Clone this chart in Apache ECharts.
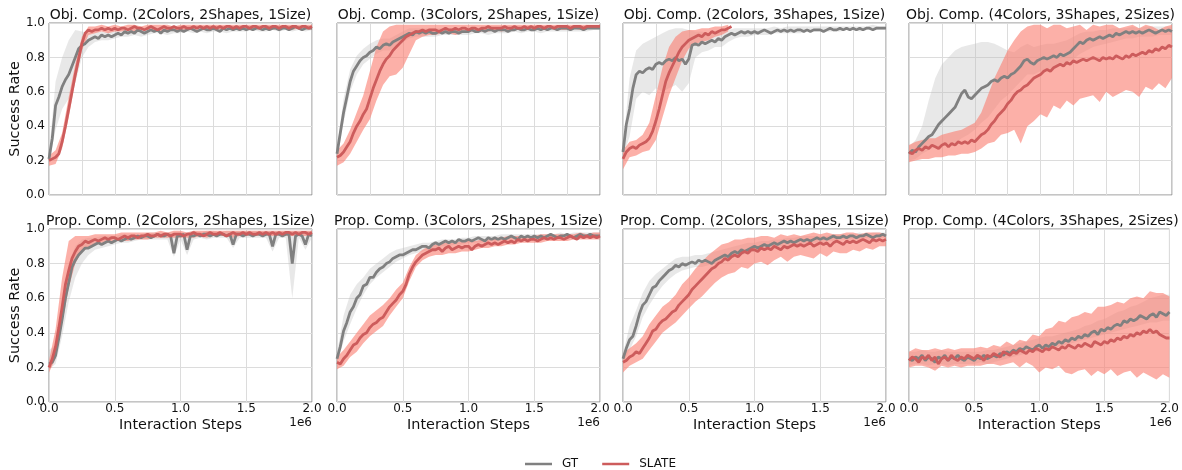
<!DOCTYPE html>
<html><head><meta charset="utf-8">
<script src="https://cdn.jsdelivr.net/npm/echarts@6/dist/echarts.min.js"></script>
<style>html,body{margin:0;padding:0;background:#fff}#c{width:1182px;height:470px}</style>
</head><body><div id="c"></div><script>
// ---------- x grids (in units of 1e6 interaction steps) ----------
const STEPS = [0,0.025,0.05,0.075,0.1,0.125,0.15,0.175,0.2,0.225,
0.25,0.275,0.3,0.325,0.35,0.375,0.4,0.425,0.45,0.475,
0.5,0.525,0.55,0.575,0.6,0.625,0.65,0.675,0.7,0.725,
0.75,0.775,0.8,0.825,0.85,0.875,0.9,0.925,0.95,0.975,
1.0,1.025,1.05,1.075,1.1,1.125,1.15,1.175,1.2,1.225,
1.25,1.275,1.3,1.325,1.35,1.375,1.4,1.425,1.45,1.475,
1.5,1.525,1.55,1.575,1.6,1.625,1.65,1.675,1.7,1.725,
1.75,1.775,1.8,1.825,1.85,1.875,1.9,1.925,1.95,1.975,
2.0];
const BAND_STEPS = [0,0.05,0.1,0.15,0.2,0.25,0.3,0.35,0.4,0.45,
0.5,0.55,0.6,0.65,0.7,0.75,0.8,0.85,0.9,0.95,
1.0,1.05,1.1,1.15,1.2,1.25,1.3,1.35,1.4,1.45,
1.5,1.55,1.6,1.65,1.7,1.75,1.8,1.85,1.9,1.95,
2.0];
const TITLES = ["Obj. Comp. (2Colors, 2Shapes, 1Size)","Obj. Comp. (3Colors, 2Shapes, 1Size)","Obj. Comp. (2Colors, 3Shapes, 1Size)","Obj. Comp. (4Colors, 3Shapes, 2Sizes)",
"Prop. Comp. (2Colors, 2Shapes, 1Size)","Prop. Comp. (3Colors, 2Shapes, 1Size)","Prop. Comp. (2Colors, 3Shapes, 1Size)","Prop. Comp. (4Colors, 3Shapes, 2Sizes)"];

// ---------- Obj. Comp. (2Colors, 2Shapes, 1Size) ----------
const obj1_gt = [0.21,0.33,0.52,0.57,0.63,0.67,0.70,0.75,0.80,0.85,
0.87,0.88,0.90,0.91,0.92,0.91,0.93,0.92,0.93,0.92,
0.93,0.94,0.93,0.95,0.94,0.95,0.94,0.96,0.95,0.94,
0.95,0.96,0.95,0.96,0.94,0.96,0.95,0.96,0.96,0.95,
0.96,0.95,0.96,0.97,0.96,0.95,0.96,0.97,0.96,0.96,
0.97,0.96,0.95,0.97,0.96,0.97,0.96,0.97,0.96,0.97,
0.96,0.97,0.96,0.97,0.97,0.96,0.97,0.96,0.97,0.97,
0.96,0.97,0.97,0.96,0.97,0.98,0.97,0.96,0.97,0.97,
0.97];
const obj1_slate = [0.20,0.21,0.22,0.24,0.31,0.40,0.50,0.60,0.70,0.79,
0.88,0.94,0.96,0.95,0.96,0.96,0.97,0.96,0.97,0.96,
0.97,0.96,0.97,0.97,0.96,0.97,0.98,0.97,0.97,0.96,
0.97,0.98,0.97,0.96,0.97,0.98,0.97,0.97,0.98,0.97,
0.97,0.98,0.97,0.97,0.98,0.97,0.98,0.97,0.98,0.97,
0.98,0.97,0.98,0.97,0.98,0.98,0.97,0.98,0.97,0.98,
0.98,0.97,0.98,0.98,0.97,0.98,0.98,0.97,0.98,0.98,
0.97,0.98,0.98,0.97,0.98,0.98,0.97,0.98,0.98,0.97,
0.98];
const obj1_gt_lo = [0.19,0.38,0.50,0.56,0.65,0.80,0.86,0.89,0.90,0.90,
0.91,0.92,0.92,0.93,0.92,0.93,0.94,0.94,0.93,0.94,
0.94,0.95,0.94,0.95,0.94,0.95,0.95,0.94,0.95,0.95,
0.95,0.96,0.95,0.95,0.96,0.95,0.96,0.95,0.96,0.95,
0.96];
const obj1_gt_hi = [0.24,0.66,0.80,0.90,0.96,0.95,0.94,0.95,0.95,0.95,
0.96,0.96,0.96,0.97,0.97,0.97,0.97,0.97,0.98,0.97,
0.98,0.97,0.98,0.98,0.98,0.98,0.98,0.98,0.98,0.98,
0.98,0.98,0.98,0.99,0.98,0.98,0.99,0.98,0.98,0.99,
0.98];
const obj1_slate_lo = [0.17,0.18,0.27,0.45,0.66,0.84,0.93,0.94,0.95,0.94,
0.95,0.95,0.96,0.95,0.96,0.96,0.96,0.95,0.96,0.96,
0.96,0.96,0.96,0.97,0.96,0.97,0.96,0.97,0.97,0.96,
0.97,0.96,0.97,0.97,0.96,0.97,0.97,0.96,0.97,0.97,
0.96];
const obj1_slate_hi = [0.23,0.26,0.36,0.57,0.76,0.92,0.98,0.98,0.99,0.98,
0.99,0.98,0.99,0.99,0.98,0.99,0.99,0.99,0.99,0.98,
0.99,0.99,0.99,0.99,0.99,0.99,0.99,0.99,0.99,0.99,
0.99,0.99,0.99,0.99,0.99,0.99,0.99,0.99,0.99,0.99,
0.99];

// ---------- Obj. Comp. (3Colors, 2Shapes, 1Size) ----------
const obj2_gt = [0.24,0.36,0.48,0.57,0.66,0.72,0.75,0.78,0.80,0.81,
0.83,0.84,0.86,0.85,0.87,0.88,0.87,0.89,0.90,0.91,
0.92,0.93,0.94,0.93,0.95,0.94,0.95,0.94,0.95,0.94,
0.94,0.95,0.94,0.95,0.94,0.95,0.95,0.94,0.95,0.95,
0.95,0.96,0.95,0.95,0.96,0.95,0.96,0.96,0.95,0.96,
0.96,0.96,0.95,0.96,0.96,0.97,0.96,0.96,0.97,0.96,
0.96,0.97,0.96,0.97,0.96,0.97,0.97,0.96,0.97,0.97,
0.97,0.96,0.97,0.97,0.97,0.96,0.97,0.97,0.97,0.97,
0.97];
const obj2_slate = [0.22,0.23,0.25,0.28,0.31,0.36,0.40,0.43,0.47,0.50,
0.56,0.62,0.67,0.72,0.76,0.79,0.81,0.84,0.86,0.88,
0.90,0.92,0.93,0.94,0.95,0.95,0.96,0.95,0.96,0.96,
0.96,0.95,0.96,0.97,0.96,0.96,0.97,0.96,0.97,0.97,
0.96,0.97,0.97,0.96,0.97,0.97,0.98,0.97,0.97,0.97,
0.97,0.98,0.97,0.97,0.98,0.97,0.97,0.98,0.97,0.98,
0.97,0.98,0.98,0.97,0.98,0.98,0.97,0.98,0.98,0.98,
0.98,0.97,0.98,0.98,0.98,0.97,0.98,0.98,0.98,0.98,
0.98];
const obj2_gt_lo = [0.22,0.42,0.60,0.70,0.76,0.79,0.82,0.84,0.84,0.87,
0.89,0.91,0.92,0.92,0.92,0.92,0.93,0.93,0.93,0.93,
0.93,0.94,0.94,0.93,0.94,0.94,0.94,0.95,0.94,0.95,
0.95,0.94,0.95,0.95,0.95,0.95,0.95,0.95,0.95,0.96,
0.96];
const obj2_gt_hi = [0.27,0.56,0.73,0.81,0.85,0.88,0.90,0.91,0.91,0.93,
0.95,0.97,0.97,0.97,0.97,0.97,0.97,0.97,0.97,0.97,
0.97,0.97,0.97,0.98,0.97,0.98,0.98,0.98,0.98,0.98,
0.98,0.98,0.98,0.98,0.98,0.98,0.98,0.98,0.99,0.98,
0.98];
const obj2_slate_lo = [0.17,0.19,0.24,0.31,0.38,0.44,0.55,0.64,0.69,0.70,
0.74,0.82,0.90,0.92,0.93,0.93,0.94,0.94,0.93,0.94,
0.95,0.95,0.95,0.95,0.96,0.95,0.96,0.96,0.96,0.96,
0.96,0.96,0.96,0.97,0.96,0.96,0.97,0.96,0.97,0.97,
0.97];
const obj2_slate_hi = [0.26,0.30,0.38,0.48,0.58,0.72,0.86,0.95,0.98,0.99,
0.99,0.99,0.99,0.99,0.99,0.99,0.99,0.99,0.99,0.99,
0.99,0.99,0.99,0.99,0.99,0.99,0.99,0.99,0.99,0.99,
0.99,0.99,0.99,0.99,0.99,0.99,0.99,0.99,0.99,0.99,
0.99];

// ---------- Obj. Comp. (2Colors, 3Shapes, 1Size) ----------
const obj3_gt = [0.25,0.41,0.50,0.62,0.70,0.72,0.71,0.73,0.74,0.73,
0.76,0.77,0.76,0.78,0.79,0.78,0.80,0.78,0.79,0.76,
0.79,0.87,0.88,0.87,0.89,0.88,0.89,0.90,0.89,0.91,
0.90,0.92,0.93,0.94,0.93,0.94,0.95,0.94,0.95,0.94,
0.95,0.94,0.95,0.96,0.95,0.94,0.95,0.96,0.95,0.96,
0.95,0.96,0.95,0.96,0.96,0.95,0.96,0.95,0.96,0.96,
0.96,0.95,0.96,0.97,0.96,0.96,0.97,0.96,0.97,0.96,
0.97,0.96,0.97,0.96,0.97,0.97,0.96,0.97,0.97,0.97,
0.97];
const obj3_slate = [0.21,0.25,0.27,0.28,0.27,0.29,0.30,0.31,0.33,0.37,
0.43,0.50,0.58,0.66,0.71,0.75,0.79,0.83,0.86,0.88,
0.90,0.91,0.92,0.93,0.92,0.94,0.93,0.95,0.94,0.95,
0.96,0.96,0.97,0.98];
const obj3_gt_lo = [0.22,0.34,0.56,0.60,0.58,0.62,0.60,0.62,0.64,0.60,
0.65,0.80,0.83,0.84,0.86,0.86,0.89,0.91,0.92,0.92,
0.93,0.93,0.93,0.94,0.94,0.94,0.94,0.94,0.95,0.95,
0.95,0.95,0.95,0.95,0.96,0.96,0.95,0.96,0.96,0.96,
0.96];
const obj3_gt_hi = [0.28,0.68,0.84,0.88,0.90,0.92,0.94,0.96,0.97,0.97,
0.96,0.95,0.95,0.94,0.94,0.95,0.96,0.97,0.97,0.97,
0.97,0.97,0.97,0.98,0.97,0.98,0.98,0.98,0.98,0.98,
0.98,0.98,0.98,0.98,0.98,0.98,0.98,0.98,0.99,0.98,
0.98];
const obj3_slate_lo = [0.15,0.22,0.23,0.25,0.26,0.32,0.45,0.58,0.68,0.78,
0.85,0.88,0.89,0.90,0.92,0.93,0.95];
const obj3_slate_hi = [0.26,0.31,0.32,0.35,0.42,0.58,0.74,0.86,0.92,0.95,
0.96,0.96,0.97,0.97,0.98,0.98,0.99];

// ---------- Obj. Comp. (4Colors, 3Shapes, 2Sizes) ----------
const obj4_gt = [0.24,0.26,0.25,0.28,0.30,0.32,0.34,0.35,0.38,0.41,
0.43,0.45,0.47,0.49,0.51,0.55,0.59,0.61,0.57,0.56,
0.58,0.60,0.62,0.63,0.64,0.66,0.67,0.66,0.68,0.69,
0.68,0.70,0.71,0.73,0.75,0.78,0.79,0.77,0.76,0.78,
0.79,0.80,0.79,0.80,0.81,0.80,0.82,0.81,0.82,0.83,
0.85,0.87,0.89,0.88,0.90,0.91,0.90,0.91,0.92,0.91,
0.92,0.93,0.92,0.94,0.93,0.94,0.95,0.94,0.95,0.94,
0.95,0.94,0.95,0.96,0.95,0.94,0.95,0.96,0.95,0.96,
0.95];
const obj4_slate = [0.25,0.24,0.26,0.27,0.26,0.28,0.27,0.29,0.28,0.27,
0.29,0.30,0.28,0.30,0.29,0.31,0.30,0.31,0.30,0.32,
0.31,0.33,0.35,0.36,0.38,0.41,0.43,0.46,0.48,0.50,
0.53,0.55,0.58,0.60,0.61,0.63,0.64,0.66,0.68,0.69,
0.70,0.72,0.73,0.72,0.74,0.75,0.76,0.75,0.77,0.76,
0.78,0.77,0.78,0.79,0.78,0.79,0.80,0.79,0.78,0.80,
0.79,0.80,0.79,0.81,0.80,0.79,0.81,0.80,0.82,0.81,
0.82,0.83,0.82,0.84,0.83,0.85,0.84,0.86,0.85,0.87,
0.86];
const obj4_gt_lo = [0.20,0.21,0.24,0.26,0.28,0.28,0.30,0.30,0.33,0.35,
0.38,0.42,0.45,0.50,0.55,0.58,0.62,0.66,0.70,0.70,
0.72,0.73,0.74,0.76,0.77,0.79,0.82,0.84,0.86,0.87,
0.88,0.89,0.90,0.91,0.91,0.92,0.92,0.92,0.93,0.93,
0.93];
const obj4_gt_hi = [0.28,0.32,0.40,0.55,0.68,0.76,0.80,0.84,0.86,0.87,
0.88,0.89,0.89,0.88,0.86,0.84,0.83,0.86,0.88,0.86,
0.87,0.88,0.88,0.89,0.90,0.92,0.94,0.95,0.95,0.96,
0.96,0.97,0.97,0.97,0.98,0.97,0.98,0.98,0.98,0.98,
0.98];
const obj4_slate_lo = [0.19,0.20,0.21,0.21,0.22,0.22,0.23,0.23,0.24,0.24,
0.25,0.27,0.30,0.31,0.35,0.36,0.38,0.30,0.40,0.43,
0.47,0.45,0.52,0.50,0.55,0.52,0.56,0.57,0.58,0.54,
0.60,0.57,0.59,0.61,0.60,0.57,0.63,0.61,0.65,0.62,
0.68];
const obj4_slate_hi = [0.29,0.31,0.32,0.33,0.33,0.35,0.36,0.37,0.38,0.40,
0.42,0.48,0.58,0.68,0.76,0.84,0.90,0.95,0.98,0.99,
0.99,0.97,0.99,0.99,0.97,0.98,0.99,0.96,0.99,0.98,
0.99,0.99,0.97,0.98,0.99,0.97,0.99,0.98,0.96,0.98,
0.99];

// ---------- Prop. Comp. (2Colors, 2Shapes, 1Size) ----------
const prop1_gt = [0.22,0.23,0.27,0.37,0.48,0.60,0.69,0.78,0.82,0.85,
0.87,0.89,0.89,0.90,0.91,0.92,0.91,0.92,0.93,0.92,
0.93,0.94,0.93,0.94,0.95,0.94,0.95,0.96,0.95,0.96,
0.96,0.95,0.96,0.97,0.96,0.96,0.97,0.96,0.86,0.96,
0.96,0.97,0.88,0.96,0.96,0.97,0.96,0.97,0.97,0.96,
0.97,0.96,0.97,0.97,0.96,0.97,0.91,0.97,0.97,0.96,
0.97,0.97,0.96,0.97,0.97,0.96,0.97,0.97,0.90,0.97,
0.97,0.96,0.97,0.97,0.80,0.96,0.97,0.96,0.91,0.97,
0.96];
const prop1_slate = [0.20,0.25,0.32,0.43,0.55,0.68,0.76,0.83,0.87,0.90,
0.91,0.93,0.92,0.93,0.94,0.93,0.94,0.95,0.94,0.95,
0.95,0.94,0.95,0.96,0.95,0.96,0.96,0.95,0.96,0.96,
0.97,0.96,0.96,0.97,0.96,0.97,0.97,0.96,0.97,0.97,
0.97,0.96,0.97,0.97,0.98,0.97,0.97,0.96,0.97,0.98,
0.97,0.97,0.98,0.97,0.96,0.97,0.98,0.97,0.97,0.98,
0.97,0.98,0.97,0.97,0.98,0.97,0.98,0.97,0.98,0.97,
0.98,0.97,0.98,0.98,0.97,0.98,0.97,0.98,0.98,0.97,
0.98];
const prop1_gt_lo = [0.19,0.22,0.38,0.58,0.72,0.80,0.85,0.88,0.89,0.90,
0.91,0.92,0.92,0.93,0.94,0.94,0.94,0.94,0.94,0.84,
0.94,0.85,0.94,0.95,0.94,0.95,0.95,0.95,0.89,0.95,
0.95,0.95,0.95,0.95,0.87,0.95,0.95,0.60,0.95,0.88,
0.95];
const prop1_gt_hi = [0.30,0.33,0.58,0.80,0.90,0.94,0.95,0.95,0.96,0.96,
0.96,0.97,0.97,0.97,0.97,0.98,0.98,0.98,0.98,0.98,
0.98,0.98,0.99,0.98,0.99,0.99,0.98,0.99,0.99,0.99,
0.99,0.99,0.99,0.99,0.99,0.99,0.99,0.99,0.99,0.99,
0.99];
const prop1_slate_lo = [0.17,0.25,0.45,0.66,0.80,0.87,0.89,0.91,0.92,0.92,
0.93,0.93,0.93,0.94,0.94,0.94,0.95,0.95,0.95,0.95,
0.95,0.95,0.95,0.96,0.95,0.96,0.96,0.96,0.95,0.96,
0.96,0.96,0.96,0.96,0.96,0.96,0.96,0.96,0.96,0.96,
0.96];
const prop1_slate_hi = [0.24,0.42,0.72,0.93,0.96,0.96,0.96,0.97,0.97,0.97,
0.97,0.98,0.98,0.98,0.98,0.98,0.98,0.99,0.98,0.99,
0.99,0.98,0.99,0.99,0.99,0.99,0.99,0.99,0.99,0.99,
0.99,0.99,0.99,0.99,0.99,0.99,0.99,0.99,0.99,0.99,
0.99];

// ---------- Prop. Comp. (3Colors, 2Shapes, 1Size) ----------
const prop2_gt = [0.25,0.32,0.41,0.46,0.52,0.55,0.60,0.62,0.67,0.68,
0.72,0.72,0.75,0.77,0.78,0.80,0.81,0.83,0.84,0.85,
0.85,0.86,0.87,0.88,0.88,0.89,0.90,0.90,0.89,0.91,
0.92,0.91,0.92,0.93,0.92,0.93,0.92,0.94,0.93,0.93,
0.94,0.93,0.94,0.95,0.94,0.93,0.95,0.94,0.95,0.94,
0.95,0.94,0.95,0.96,0.95,0.94,0.96,0.95,0.96,0.95,
0.96,0.95,0.96,0.95,0.96,0.97,0.96,0.95,0.96,0.96,
0.97,0.96,0.95,0.96,0.97,0.96,0.96,0.97,0.96,0.96,
0.96];
const prop2_slate = [0.23,0.22,0.25,0.27,0.30,0.33,0.34,0.37,0.39,0.40,
0.43,0.45,0.46,0.48,0.49,0.52,0.55,0.57,0.59,0.62,
0.64,0.68,0.74,0.78,0.81,0.83,0.85,0.86,0.87,0.88,
0.88,0.89,0.87,0.89,0.90,0.88,0.89,0.90,0.89,0.90,
0.90,0.88,0.90,0.91,0.90,0.91,0.92,0.91,0.92,0.91,
0.92,0.93,0.92,0.93,0.92,0.94,0.93,0.94,0.93,0.94,
0.94,0.93,0.94,0.95,0.94,0.95,0.94,0.95,0.95,0.94,
0.95,0.96,0.95,0.94,0.96,0.95,0.96,0.95,0.96,0.95,
0.96];
const prop2_gt_lo = [0.22,0.35,0.45,0.54,0.62,0.68,0.72,0.75,0.78,0.81,
0.83,0.85,0.86,0.87,0.88,0.89,0.90,0.90,0.91,0.91,
0.92,0.92,0.92,0.93,0.93,0.93,0.94,0.94,0.94,0.94,
0.94,0.94,0.95,0.95,0.95,0.95,0.95,0.95,0.95,0.95,
0.95];
const prop2_gt_hi = [0.28,0.50,0.62,0.68,0.72,0.77,0.80,0.83,0.86,0.88,
0.89,0.90,0.91,0.92,0.92,0.93,0.94,0.94,0.94,0.95,
0.95,0.96,0.96,0.96,0.96,0.97,0.97,0.97,0.97,0.97,
0.97,0.97,0.97,0.97,0.98,0.97,0.98,0.98,0.98,0.98,
0.98];
const prop2_slate_lo = [0.19,0.21,0.26,0.29,0.34,0.38,0.41,0.44,0.50,0.55,
0.60,0.70,0.78,0.82,0.84,0.85,0.85,0.86,0.86,0.87,
0.87,0.88,0.89,0.89,0.90,0.90,0.91,0.91,0.92,0.92,
0.92,0.92,0.93,0.93,0.93,0.93,0.94,0.94,0.94,0.94,
0.94];
const prop2_slate_hi = [0.26,0.30,0.35,0.40,0.45,0.50,0.53,0.56,0.60,0.65,
0.69,0.78,0.85,0.88,0.90,0.91,0.92,0.92,0.92,0.93,
0.93,0.93,0.94,0.94,0.95,0.95,0.96,0.96,0.96,0.96,
0.96,0.97,0.97,0.97,0.97,0.97,0.97,0.98,0.97,0.98,
0.98];

// ---------- Prop. Comp. (2Colors, 3Shapes, 1Size) ----------
const prop3_gt = [0.25,0.31,0.36,0.38,0.44,0.51,0.56,0.58,0.62,0.66,
0.67,0.70,0.72,0.74,0.76,0.77,0.79,0.78,0.80,0.79,
0.80,0.81,0.80,0.82,0.81,0.82,0.81,0.80,0.82,0.83,
0.84,0.85,0.84,0.86,0.87,0.86,0.88,0.87,0.88,0.89,
0.90,0.89,0.90,0.91,0.90,0.91,0.92,0.91,0.92,0.93,
0.92,0.93,0.92,0.93,0.94,0.93,0.94,0.93,0.94,0.95,
0.94,0.95,0.94,0.95,0.96,0.95,0.95,0.96,0.95,0.96,
0.96,0.95,0.96,0.96,0.97,0.96,0.95,0.96,0.96,0.97,
0.96];
const prop3_slate = [0.23,0.24,0.26,0.27,0.29,0.28,0.31,0.34,0.37,0.41,
0.42,0.45,0.47,0.48,0.50,0.52,0.53,0.56,0.58,0.60,
0.62,0.65,0.67,0.69,0.71,0.73,0.75,0.77,0.78,0.80,
0.81,0.83,0.82,0.84,0.85,0.84,0.86,0.87,0.86,0.88,
0.88,0.87,0.89,0.88,0.89,0.88,0.90,0.89,0.88,0.90,
0.89,0.90,0.91,0.90,0.91,0.90,0.91,0.92,0.90,0.91,
0.92,0.91,0.92,0.90,0.92,0.93,0.92,0.91,0.93,0.92,
0.93,0.92,0.93,0.94,0.93,0.92,0.94,0.93,0.94,0.93,
0.94];
const prop3_gt_lo = [0.22,0.30,0.38,0.49,0.56,0.62,0.67,0.71,0.74,0.76,
0.77,0.78,0.78,0.79,0.80,0.81,0.82,0.84,0.85,0.86,
0.87,0.88,0.89,0.89,0.90,0.90,0.91,0.91,0.92,0.92,
0.92,0.93,0.93,0.94,0.94,0.94,0.94,0.95,0.95,0.95,
0.95];
const prop3_gt_hi = [0.28,0.44,0.53,0.63,0.70,0.74,0.77,0.80,0.83,0.84,
0.84,0.85,0.85,0.86,0.87,0.88,0.89,0.90,0.91,0.92,
0.92,0.93,0.93,0.94,0.94,0.95,0.95,0.96,0.96,0.96,
0.96,0.96,0.97,0.97,0.97,0.97,0.98,0.97,0.98,0.98,
0.98];
const prop3_slate_lo = [0.17,0.21,0.23,0.25,0.30,0.35,0.40,0.43,0.46,0.50,
0.54,0.58,0.61,0.65,0.69,0.72,0.74,0.75,0.78,0.77,
0.80,0.81,0.79,0.82,0.84,0.81,0.84,0.85,0.84,0.83,
0.86,0.84,0.87,0.86,0.86,0.88,0.87,0.89,0.88,0.90,
0.90];
const prop3_slate_hi = [0.28,0.31,0.34,0.38,0.45,0.50,0.55,0.58,0.62,0.68,
0.72,0.77,0.81,0.85,0.88,0.91,0.92,0.94,0.94,0.95,
0.95,0.96,0.96,0.95,0.97,0.96,0.97,0.96,0.97,0.98,
0.97,0.98,0.97,0.97,0.98,0.98,0.97,0.98,0.98,0.98,
0.97];

// ---------- Prop. Comp. (4Colors, 3Shapes, 2Sizes) ----------
const prop4_gt = [0.25,0.24,0.26,0.25,0.27,0.24,0.26,0.25,0.23,0.26,
0.25,0.27,0.24,0.26,0.25,0.27,0.25,0.24,0.26,0.25,
0.24,0.26,0.25,0.27,0.25,0.26,0.27,0.26,0.28,0.27,
0.29,0.28,0.30,0.29,0.31,0.30,0.32,0.31,0.30,0.32,
0.33,0.31,0.33,0.32,0.34,0.33,0.35,0.34,0.36,0.35,
0.37,0.36,0.38,0.37,0.39,0.38,0.40,0.41,0.39,0.42,
0.41,0.43,0.42,0.44,0.45,0.44,0.47,0.46,0.48,0.47,
0.48,0.50,0.49,0.48,0.50,0.51,0.49,0.52,0.51,0.50,
0.52];
const prop4_slate = [0.24,0.26,0.25,0.23,0.26,0.25,0.27,0.24,0.26,0.22,
0.25,0.26,0.24,0.27,0.25,0.24,0.26,0.25,0.27,0.26,
0.25,0.27,0.26,0.24,0.27,0.26,0.28,0.27,0.26,0.29,
0.28,0.27,0.29,0.28,0.30,0.29,0.28,0.30,0.29,0.31,
0.30,0.29,0.31,0.30,0.32,0.31,0.30,0.32,0.31,0.33,
0.32,0.31,0.33,0.32,0.34,0.33,0.32,0.35,0.34,0.33,
0.35,0.34,0.36,0.35,0.37,0.36,0.38,0.37,0.39,0.38,
0.40,0.39,0.41,0.40,0.42,0.40,0.41,0.39,0.38,0.37,
0.37];
const prop4_gt_lo = [0.21,0.22,0.22,0.21,0.22,0.22,0.21,0.22,0.22,0.22,
0.22,0.23,0.22,0.23,0.24,0.25,0.26,0.27,0.28,0.29,
0.29,0.30,0.31,0.32,0.33,0.34,0.35,0.36,0.37,0.38,
0.39,0.40,0.41,0.42,0.43,0.44,0.45,0.46,0.46,0.47,
0.47];
const prop4_gt_hi = [0.29,0.29,0.30,0.29,0.29,0.30,0.29,0.29,0.29,0.29,
0.29,0.29,0.30,0.30,0.31,0.32,0.33,0.34,0.35,0.36,
0.37,0.38,0.38,0.39,0.40,0.41,0.42,0.44,0.45,0.47,
0.48,0.50,0.52,0.53,0.55,0.56,0.58,0.60,0.61,0.62,
0.62];
const prop4_slate_lo = [0.20,0.21,0.21,0.20,0.18,0.21,0.20,0.21,0.20,0.21,
0.21,0.21,0.22,0.22,0.21,0.22,0.23,0.20,0.23,0.21,
0.17,0.20,0.19,0.21,0.17,0.16,0.18,0.19,0.15,0.18,
0.16,0.19,0.15,0.17,0.18,0.14,0.17,0.15,0.13,0.16,
0.14];
const prop4_slate_hi = [0.29,0.31,0.30,0.30,0.31,0.30,0.31,0.30,0.31,0.31,
0.31,0.32,0.31,0.33,0.32,0.35,0.33,0.36,0.35,0.39,
0.38,0.42,0.43,0.47,0.46,0.49,0.50,0.52,0.51,0.55,
0.55,0.56,0.58,0.57,0.60,0.61,0.60,0.64,0.63,0.63,
0.61];

const PANELS = [
  {gt:obj1_gt, sl:obj1_slate, gtLo:obj1_gt_lo, gtHi:obj1_gt_hi, slLo:obj1_slate_lo, slHi:obj1_slate_hi},
  {gt:obj2_gt, sl:obj2_slate, gtLo:obj2_gt_lo, gtHi:obj2_gt_hi, slLo:obj2_slate_lo, slHi:obj2_slate_hi},
  {gt:obj3_gt, sl:obj3_slate, gtLo:obj3_gt_lo, gtHi:obj3_gt_hi, slLo:obj3_slate_lo, slHi:obj3_slate_hi},
  {gt:obj4_gt, sl:obj4_slate, gtLo:obj4_gt_lo, gtHi:obj4_gt_hi, slLo:obj4_slate_lo, slHi:obj4_slate_hi},
  {gt:prop1_gt, sl:prop1_slate, gtLo:prop1_gt_lo, gtHi:prop1_gt_hi, slLo:prop1_slate_lo, slHi:prop1_slate_hi},
  {gt:prop2_gt, sl:prop2_slate, gtLo:prop2_gt_lo, gtHi:prop2_gt_hi, slLo:prop2_slate_lo, slHi:prop2_slate_hi},
  {gt:prop3_gt, sl:prop3_slate, gtLo:prop3_gt_lo, gtHi:prop3_gt_hi, slLo:prop3_slate_lo, slHi:prop3_slate_hi},
  {gt:prop4_gt, sl:prop4_slate, gtLo:prop4_gt_lo, gtHi:prop4_gt_hi, slLo:prop4_slate_lo, slHi:prop4_slate_hi}
];

// ---------- layout & style ----------
const FONT = '"DejaVu Sans", sans-serif';
const COL_LEFT = [49, 337, 623, 909];
const ROW_TOP = [23, 229];
const ROW_H = [172, 173];
const PW = 263;
const GT_COLOR = '#808080', SL_COLOR = '#cd5c5c';
const GT_BAND = 'rgba(190,190,190,0.36)', SL_BAND = 'rgba(250,128,114,0.62)';

function band(k, xs, lo, hi, fill, name) {
  return {
    type: 'custom', name: name, xAxisIndex: k, yAxisIndex: k, silent: true, z: 1,
    data: [[xs[0], lo[0]]], encode: {x: 0, y: 1},
    renderItem: function (params, api) {
      const pts = [];
      const n = Math.min(lo.length, hi.length);
      for (let i = 0; i < n; i++) pts.push(api.coord([xs[i], hi[i]]));
      for (let i = n - 1; i >= 0; i--) pts.push(api.coord([xs[i], lo[i]]));
      return {type: 'polygon', shape: {points: pts}, style: {fill: fill}};
    }
  };
}
function line(k, vals, color, name, z) {
  return {
    type: 'line', name: name, xAxisIndex: k, yAxisIndex: k, z: z,
    data: vals.map((v, i) => [STEPS[i], v]),
    showSymbol: false, symbol: 'none', color: color,
    lineStyle: {color: color, width: 2.8}, silent: true
  };
}

const grids = [], xAxes = [], yAxes = [], series = [], graphics = [];
PANELS.forEach((p, k) => {
  const r = k < 4 ? 0 : 1, c = k % 4;
  grids.push({left: COL_LEFT[c], top: ROW_TOP[r], width: PW, height: ROW_H[r],
    show: true, borderColor: '#8a8a8a', borderWidth: 1, backgroundColor: 'rgba(0,0,0,0)'});
  xAxes.push({type: 'value', gridIndex: k, min: 0, max: 2, interval: r ? 0.5 : 0.25,
    axisLine: {show: false}, axisTick: {show: false},
    axisLabel: {show: r === 1, formatter: v => v.toFixed(1), fontSize: 12, color: '#111', margin: 1, fontFamily: FONT},
    splitLine: {show: true, lineStyle: {color: '#dcdcdc', width: 1}},
    name: r ? 'Interaction Steps' : '', nameLocation: 'middle', nameGap: 16,
    nameTextStyle: {fontSize: 14.4, color: '#111', fontFamily: FONT}});
  yAxes.push({type: 'value', gridIndex: k, min: 0, max: 1, interval: 0.2,
    axisLine: {show: false}, axisTick: {show: false},
    axisLabel: {show: c === 0, formatter: v => v.toFixed(1), fontSize: 12, color: '#111', margin: 4, fontFamily: FONT},
    splitLine: {show: true, lineStyle: {color: '#dcdcdc', width: 1}},
    name: c === 0 ? 'Success Rate' : '', nameLocation: 'middle', nameGap: 25, nameRotate: 90,
    nameTextStyle: {fontSize: 14.4, color: '#111', fontFamily: FONT}});
  series.push(band(k, BAND_STEPS, p.gtLo, p.gtHi, GT_BAND, 'GT band'));
  series.push(band(k, BAND_STEPS, p.slLo, p.slHi, SL_BAND, 'SLATE band'));
  series.push(line(k, p.gt, GT_COLOR, 'GT', 3));
  series.push(line(k, p.sl, SL_COLOR, 'SLATE', 4));
  graphics.push({type: 'text', z: 10, style: {text: TITLES[k], x: COL_LEFT[c] + PW / 2, y: r ? 221.5 : 15.5,
    align: 'center', verticalAlign: 'middle', font: '14px ' + FONT, fill: '#111'}});
  if (r === 1) {
    graphics.push({type: 'text', z: 10, style: {text: '1e6', x: COL_LEFT[c] + PW, y: 423,
      align: 'right', verticalAlign: 'middle', font: '12px ' + FONT, fill: '#111'}});
  }
});

const chart = echarts.init(document.getElementById('c'));
chart.setOption({
  animation: false,
  backgroundColor: '#fff',
  textStyle: {fontFamily: FONT},
  grid: grids, xAxis: xAxes, yAxis: yAxes, series: series, graphic: graphics,
  legend: {data: ['GT', 'SLATE'], left: 520, top: 453, icon: 'rect', itemWidth: 27, itemHeight: 2.5,
    itemGap: 24, textStyle: {fontSize: 12, color: '#111', fontFamily: FONT, padding: [0, 0, 0, 5]}}
});
</script></body></html>
